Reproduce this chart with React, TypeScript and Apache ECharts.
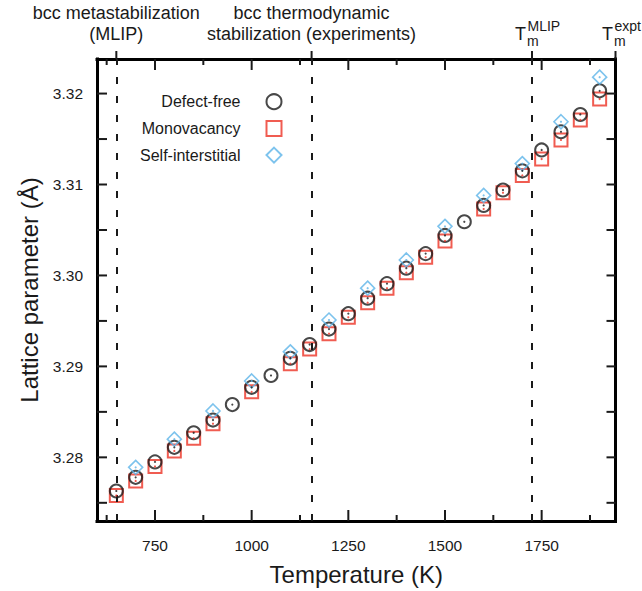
import { useEffect, useRef } from "react";
import * as echarts from "echarts";

// ---- data ----
const tempDefectFree = [650, 700, 750, 800, 850, 900, 950, 1000, 1050, 1100, 1150, 1200, 1250, 1300, 1350, 1400, 1450, 1500, 1550, 1600, 1650, 1700, 1750, 1800, 1850, 1900];
const latDefectFree = [3.2763, 3.2778, 3.2795, 3.2811, 3.2827, 3.2841, 3.2858, 3.2877, 3.2890, 3.2909, 3.2924, 3.2941, 3.2958, 3.2975, 3.2991, 3.3008, 3.3024, 3.3044, 3.3059, 3.3077, 3.3094, 3.3115, 3.3138, 3.3158, 3.3177, 3.3203];

const tempVacancy = [650, 700, 750, 800, 850, 900, 1000, 1100, 1150, 1200, 1250, 1300, 1350, 1400, 1450, 1500, 1600, 1650, 1700, 1750, 1800, 1850, 1900];
const latVacancy = [3.2758, 3.2774, 3.2790, 3.2807, 3.2821, 3.2837, 3.2872, 3.2903, 3.2919, 3.2936, 3.2954, 3.2970, 3.2986, 3.3003, 3.3020, 3.3038, 3.3073, 3.3091, 3.3110, 3.3128, 3.3149, 3.3171, 3.3194];

const tempInterstitial = [700, 800, 900, 1000, 1100, 1200, 1300, 1400, 1500, 1600, 1700, 1800, 1900];
const latInterstitial = [3.2789, 3.2820, 3.2851, 3.2884, 3.2916, 3.2951, 3.2986, 3.3017, 3.3054, 3.3088, 3.3123, 3.3169, 3.3218];

const seriesNames = ["Defect-free", "Monovacancy", "Self-interstitial"];

const xMajorTicks = [750, 1000, 1250, 1500, 1750];
const xMinorTicks = [625, 875, 1125, 1375, 1625, 1875];
const yLabelTicks = [3.28, 3.29, 3.3, 3.31, 3.32];
const yAllTicks = [3.275, 3.28, 3.285, 3.29, 3.295, 3.3, 3.305, 3.31, 3.315, 3.32];

const dashedTemps = [650, 1155, 1725];
const topTickTemps = [650, 1155, 1725, 1941];
const topLabelLine1 = ["bcc metastabilization", "bcc thermodynamic"];
const topLabelLine2 = ["(MLIP)", "stabilization (experiments)"];
const meltSup = ["MLIP", "expt"];

const X_MIN = 600;
const X_MAX = 1941;
const Y_MIN = 3.273;
const Y_MAX = 3.3238;

const W = 642;
const H = 591;
const GRID = { left: 97, right: 26.5, top: 59, bottom: 69.5 };

const FONT = "'Liberation Sans', Arial, Helvetica, sans-serif";
const INK = "#1a1a1a";
const RED = "#ec3326";
const BLUE = "#5cb4e8";

const zip = (xs: number[], ys: number[]) => xs.map((x, i) => [x, ys[i]]);

export default function App() {
  const ref = useRef<HTMLDivElement>(null);

  useEffect(() => {
    document.body.style.margin = "0";
    if (!ref.current) return;
    const chart = echarts.init(ref.current, null, { renderer: "svg" });

    const frameLine = { show: true, onZero: false, lineStyle: { color: "#000", width: 3, cap: "square" } };

    const hollow = (color: string, bw: number) => ({
      color: "rgba(0,0,0,0)",
      borderColor: color,
      borderWidth: bw,
    });

    const dotSeries = (data: number[][], color: string) => ({
      type: "scatter",
      name: "_dot_" + color,
      data,
      symbol: "circle",
      symbolSize: 2.2,
      itemStyle: { color },
      silent: true,
      clip: false,
      z: 5,
    });

    chart.setOption({
      animation: false,
      backgroundColor: "#fff",
      textStyle: { fontFamily: FONT },
      grid: { ...GRID },
      legend: {
        data: seriesNames,
        orient: "vertical",
        align: "right",
        right: 359.5,
        top: 93.2,
        padding: 0,
        itemWidth: 15,
        itemHeight: 15,
        itemGap: 9.7,
        selectedMode: false,
        itemStyle: { borderWidth: 2 },
        textStyle: { fontSize: 16, color: INK, fontFamily: FONT, padding: [0, 21, 0, 0] },
      },
      xAxis: [
        {
          type: "value",
          min: X_MIN,
          max: X_MAX,
          position: "bottom",
          splitLine: { show: false },
          axisLine: frameLine,
          axisTick: { show: false },
          name: "Temperature (K)",
          nameLocation: "middle",
          nameGap: 41,
          nameTextStyle: { fontSize: 24, color: INK, fontFamily: FONT },
          axisLabel: {
            show: true,
            customValues: xMajorTicks,
            fontSize: 15.5,
            color: INK,
            margin: 16,
            fontFamily: FONT,
            formatter: (v: number) => String(Math.round(v)),
          },
        },
        {
          type: "value",
          min: X_MIN,
          max: X_MAX,
          position: "top",
          splitLine: { show: false },
          axisLine: frameLine,
          axisTick: { show: false },
          axisLabel: { show: false },
        },
      ],
      yAxis: [
        {
          type: "value",
          min: Y_MIN,
          max: Y_MAX,
          position: "left",
          splitLine: { show: false },
          axisLine: frameLine,
          axisTick: { show: false },
          name: "Lattice parameter (Å)",
          nameLocation: "middle",
          nameGap: 55,
          nameTextStyle: { fontSize: 24, color: INK, fontFamily: FONT },
          axisLabel: {
            show: true,
            customValues: yLabelTicks,
            fontSize: 15.5,
            color: INK,
            margin: 14,
            fontFamily: FONT,
            formatter: (v: number) => v.toFixed(2),
          },
        },
        {
          type: "value",
          min: Y_MIN,
          max: Y_MAX,
          position: "right",
          splitLine: { show: false },
          axisLine: frameLine,
          axisTick: { show: false },
          axisLabel: { show: false },
        },
      ],
      series: [
        {
          type: "scatter",
          name: seriesNames[1],
          data: zip(tempVacancy, latVacancy),
          symbol: "rect",
          symbolSize: 13,
          itemStyle: hollow(RED, 2),
          clip: false,
          z: 3,
        },
        {
          type: "scatter",
          name: seriesNames[0],
          data: zip(tempDefectFree, latDefectFree),
          symbol: "circle",
          symbolSize: 13,
          itemStyle: hollow(INK, 2),
          clip: false,
          z: 4,
          markLine: {
            silent: true,
            symbol: ["none", "none"],
            label: { show: false },
            lineStyle: { color: INK, width: 2, type: [7, 12] },
            data: dashedTemps.map((t) => ({ xAxis: t })),
          },
        },
        {
          type: "scatter",
          name: seriesNames[2],
          data: zip(tempInterstitial, latInterstitial),
          symbol: "diamond",
          symbolSize: 14,
          itemStyle: hollow(BLUE, 1.6),
          clip: false,
          z: 4,
        },
        dotSeries(zip(tempVacancy, latVacancy), RED),
        dotSeries(zip(tempDefectFree, latDefectFree), INK),
        dotSeries(zip(tempInterstitial, latInterstitial), BLUE),
      ],
    });

    const gL = GRID.left;
    const gR = W - GRID.right;
    const gT = GRID.top;
    const gB = H - GRID.bottom;
    const toPt = (x: number, y: number): number[] => {
      let p: any = null;
      try {
        p = chart.convertToPixel({ seriesIndex: 0 }, [x, y]);
      } catch (e) {
        p = null;
      }
      if (p && Number.isFinite(p[0]) && Number.isFinite(p[1])) return [p[0], p[1]];
      return [
        gL + ((x - X_MIN) / (X_MAX - X_MIN)) * (gR - gL),
        gB - ((y - Y_MIN) / (Y_MAX - Y_MIN)) * (gB - gT),
      ];
    };
    const px = (t: number) => toPt(t, Y_MIN)[0];
    const py = (v: number) => toPt(X_MIN, v)[1];
    const gLeft = px(X_MIN);
    const gRight = px(X_MAX);
    const gTop = py(Y_MAX);
    const gBottom = py(Y_MIN);

    const graphics: any[] = [];
    const TW = 2;
    const vTick = (x: number, y0: number, len: number) =>
      graphics.push({
        type: "rect",
        silent: true,
        z: 10,
        shape: { x: x - TW / 2, y: len < 0 ? y0 + len : y0, width: TW, height: Math.abs(len) },
        style: { fill: INK },
      });
    const hTick = (y: number, x0: number, len: number) =>
      graphics.push({
        type: "rect",
        silent: true,
        z: 10,
        shape: { x: len < 0 ? x0 + len : x0, y: y - TW / 2, width: Math.abs(len), height: TW },
        style: { fill: INK },
      });

    xMajorTicks.forEach((t) => {
      const x = px(t);
      vTick(x, gBottom, -11);
      vTick(x, gTop, 11);
    });
    xMinorTicks.forEach((t) => {
      const x = px(t);
      vTick(x, gBottom, -6);
      vTick(x, gTop, 6);
    });
    topTickTemps.forEach((t) => {
      const x = px(t);
      vTick(x, gTop, -8);
    });
    yAllTicks.forEach((v) => {
      const y = py(v);
      hTick(y, gLeft, 10);
      hTick(y, gRight, -9);
    });

    [0, 1].forEach((i) => {
      const x = px(dashedTemps[i]);
      graphics.push({
        type: "text",
        style: { text: topLabelLine1[i], x, y: 13.3, align: "center", verticalAlign: "middle", fontSize: 18, fill: INK, fontFamily: FONT },
      });
      graphics.push({
        type: "text",
        style: { text: topLabelLine2[i], x, y: 33.8, align: "center", verticalAlign: "middle", fontSize: 18, fill: INK, fontFamily: FONT },
      });
    });
    [2, 3].forEach((k, j) => {
      const x = px(topTickTemps[k]);
      const tLeft = x + (j === 0 ? -17 : -13.5);
      graphics.push({
        type: "text",
        style: { text: "T", x: tLeft, y: 33.8, align: "left", verticalAlign: "middle", fontSize: 18, lineHeight: 18, fill: INK, fontFamily: FONT },
      });
      graphics.push({
        type: "text",
        style: { text: "m", x: tLeft + 12, y: 40.5, align: "left", verticalAlign: "middle", fontSize: 14, lineHeight: 13, fill: INK, fontFamily: FONT },
      });
      graphics.push({
        type: "text",
        style: { text: meltSup[j], x: tLeft + 12.5, y: 25.5, align: "left", verticalAlign: "middle", fontSize: 14, lineHeight: 13, fill: INK, fontFamily: FONT },
      });
    });
    chart.setOption({ graphic: graphics });

    return () => chart.dispose();
  }, []);

  return <div ref={ref} style={{ width: W, height: H }} />;
}
